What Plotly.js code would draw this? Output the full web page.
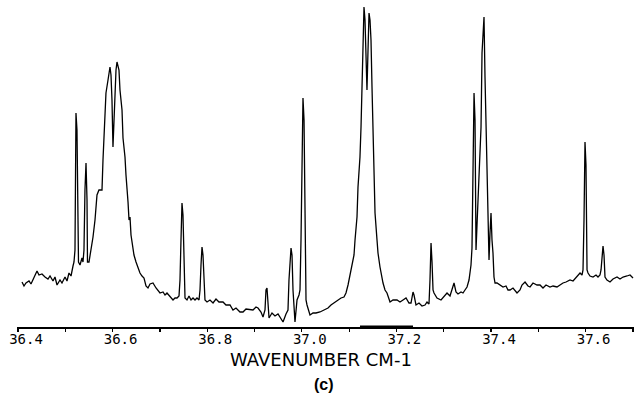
<!DOCTYPE html>
<html>
<head>
<meta charset="utf-8">
<script src="https://cdn.plot.ly/plotly-3.0.1.min.js"></script>
<style>
html,body{margin:0;padding:0;background:#fff;}
#chart{width:634px;height:394px;}
</style>
</head>
<body>
<div id="chart"></div>
<script>
// Wavenumber (cm-1)
const wavenumber = [
36.4085,36.4127,36.4169,36.4233,36.4275,36.4338,36.4402,36.4444,36.4507,36.4571,
36.4634,36.4677,36.4740,36.4782,36.4825,36.4888,36.4930,36.4994,36.5036,36.5078,
36.5121,36.5163,36.5184,36.5205,36.5216,36.5226,36.5247,36.5268,36.5279,36.5311,
36.5353,36.5374,36.5395,36.5416,36.5438,36.5459,36.5469,36.5501,36.5543,36.5586,
36.5628,36.5670,36.5712,36.5776,36.5797,36.5839,36.5860,36.5903,36.5924,36.5945,
36.5966,36.5987,36.6008,36.6030,36.6051,36.6072,36.6093,36.6114,36.6135,36.6156,
36.6199,36.6220,36.6262,36.6283,36.6304,36.6326,36.6347,36.6368,36.6389,36.6410,
36.6452,36.6495,36.6537,36.6579,36.6622,36.6664,36.6706,36.6748,36.6791,36.6854,
36.6918,36.6960,36.7002,36.7066,36.7108,36.7150,36.7214,36.7277,36.7319,36.7362,
36.7404,36.7425,36.7446,36.7467,36.7488,36.7510,36.7531,36.7573,36.7615,36.7658,
36.7700,36.7742,36.7784,36.7827,36.7848,36.7869,36.7890,36.7911,36.7932,36.7953,
36.7996,36.8059,36.8123,36.8186,36.8249,36.8334,36.8397,36.8482,36.8545,36.8609,
36.8693,36.8757,36.8820,36.8905,36.8968,36.9032,36.9074,36.9137,36.9180,36.9222,
36.9243,36.9264,36.9285,36.9307,36.9370,36.9433,36.9497,36.9539,36.9603,36.9666,
36.9708,36.9729,36.9751,36.9772,36.9793,36.9814,36.9856,36.9899,36.9941,36.9962,
36.9983,37.0004,37.0025,37.0047,37.0068,37.0089,37.0110,37.0173,37.0237,37.0300,
37.0385,37.0469,37.0554,37.0617,37.0681,37.0765,37.0829,37.0892,37.0934,37.0977,
37.0998,37.1040,37.1061,37.1104,37.1125,37.1167,37.1188,37.1230,37.1252,37.1273,
37.1294,37.1315,37.1336,37.1357,37.1378,37.1400,37.1421,37.1442,37.1463,37.1484,
37.1505,37.1526,37.1548,37.1590,37.1611,37.1653,37.1696,37.1717,37.1759,37.1801,
37.1865,37.1928,37.2013,37.2076,37.2140,37.2203,37.2266,37.2309,37.2351,37.2372,
37.2414,37.2478,37.2541,37.2605,37.2647,37.2689,37.2710,37.2732,37.2753,37.2774,
37.2795,37.2858,37.2943,37.3006,37.3070,37.3133,37.3175,37.3218,37.3260,37.3302,
37.3366,37.3408,37.3450,37.3493,37.3535,37.3556,37.3577,37.3598,37.3609,37.3630,
37.3641,37.3662,37.3672,37.3683,37.3704,37.3725,37.3746,37.3767,37.3789,37.3810,
37.3831,37.3852,37.3873,37.3894,37.3915,37.3937,37.3958,37.3979,37.4000,37.4021,
37.4042,37.4063,37.4085,37.4127,37.4190,37.4254,37.4317,37.4359,37.4402,37.4465,
37.4550,37.4613,37.4655,37.4719,37.4782,37.4825,37.4888,37.4973,37.5036,37.5099,
37.5163,37.5247,37.5311,37.5395,37.5459,37.5522,37.5586,37.5670,37.5734,37.5818,
37.5882,37.5924,37.5945,37.5966,37.5977,37.5987,37.6008,37.6030,37.6051,37.6093,
37.6156,37.6220,37.6262,37.6304,37.6326,37.6347,37.6368,37.6389,37.6410,37.6452,
37.6516,37.6579,37.6664,37.6727,37.6791,37.6875,37.6939,37.7002
];

// Relative intensity (arbitrary units)
const intensity = [
45,41,44,46,43,49,56,52,53,50,
48,51,46,50,42,47,44,50,46,54,
51,61,65,77,177,214,197,127,65,62,
69,65,77,137,164,127,65,65,77,90,
107,132,137,137,167,207,234,247,252,260,
252,227,180,207,237,257,265,261,257,237,
217,189,170,152,132,125,107,110,92,84,
72,65,59,54,51,49,41,39,43,44,
39,37,34,35,32,34,30,27,29,29,
31,47,87,124,112,67,29,27,31,27,
29,27,29,27,37,62,80,72,42,27,
25,27,24,28,25,25,22,22,17,19,
15,15,18,17,17,20,19,15,10,17,
37,39,27,9,14,11,13,10,5,13,
17,47,67,79,72,37,5,27,32,37,
87,177,229,207,87,27,22,12,14,14,
15,17,19,22,24,27,29,30,34,42,
47,57,64,72,87,110,140,170,200,244,
307,320,307,277,237,277,314,307,287,240,
187,147,114,87,74,60,47,44,37,34,
25,27,27,25,27,29,24,24,35,32,
22,24,21,22,25,23,47,84,65,37,
34,29,27,31,34,31,37,44,35,33,
35,34,37,40,47,54,62,79,140,217,
234,207,127,77,102,127,147,160,200,274,
302,310,250,197,164,114,67,94,114,87,
74,50,44,44,42,40,41,37,37,39,
34,37,42,45,41,40,44,42,42,39,
42,40,41,40,42,44,45,47,46,50,
54,52,57,107,167,185,162,57,54,51,
50,52,50,52,57,72,81,72,50,47,
45,48,50,48,50,51,52,49
];

// Axis ticks
const tickStart = 36.4;
const majorStep = 0.2;
const minorStep = 0.1;
const xRange = [36.3979, 37.7023];
const yRange = [0, 327];
// Heavier stretch of the axis line (as on the plotted original)
const heavyAxis = [37.1230, 37.2351];

const trace = {
  x: wavenumber,
  y: intensity,
  type: 'scatter',
  mode: 'lines',
  line: {color: '#000', width: 1.3},
  hoverinfo: 'skip'
};

const layout = {
  width: 634,
  height: 394,
  margin: {l: 17, r: 0, t: 0, b: 67},
  paper_bgcolor: '#fff',
  plot_bgcolor: '#fff',
  showlegend: false,
  xaxis: {
    range: xRange,
    showline: true,
    linecolor: '#000',
    linewidth: 1.5,
    showgrid: false,
    zeroline: false,
    ticks: 'outside',
    ticklen: 3,
    tickwidth: 1.2,
    tickcolor: '#000',
    tick0: tickStart,
    dtick: majorStep,
    tickformat: '.1f',
    ticklabelshift: 8,
    ticklabelstandoff: -4,
    minor: {dtick: minorStep, tick0: tickStart, ticks: 'outside', ticklen: 3, tickwidth: 1.2, tickcolor: '#000', showgrid: false},
    tickfont: {family: 'DejaVu Sans Mono', size: 14, color: '#000'}
  },
  yaxis: {
    range: yRange,
    visible: false,
    showgrid: false,
    zeroline: false
  },
  shapes: [{
    type: 'line', xref: 'x', yref: 'paper',
    x0: heavyAxis[0], x1: heavyAxis[1], y0: 0, y1: 0,
    line: {color: '#000', width: 3}
  }],
  annotations: [{
    text: 'WAVENUMBER CM-1',
    xref: 'paper', yref: 'paper',
    x: 0.4935, y: -0.0994,
    xanchor: 'center', yanchor: 'middle',
    showarrow: false,
    font: {family: 'DejaVu Sans', size: 18, color: '#000'}
  }, {
    text: '<b>(c)</b>',
    xref: 'paper', yref: 'paper',
    x: 0.4976, y: -0.177,
    xanchor: 'center', yanchor: 'middle',
    showarrow: false,
    font: {family: 'Liberation Sans', size: 16, color: '#000'}
  }]
};

Plotly.newPlot('chart', [trace], layout, {displayModeBar: false, staticPlot: true});
</script>
</body>
</html>
